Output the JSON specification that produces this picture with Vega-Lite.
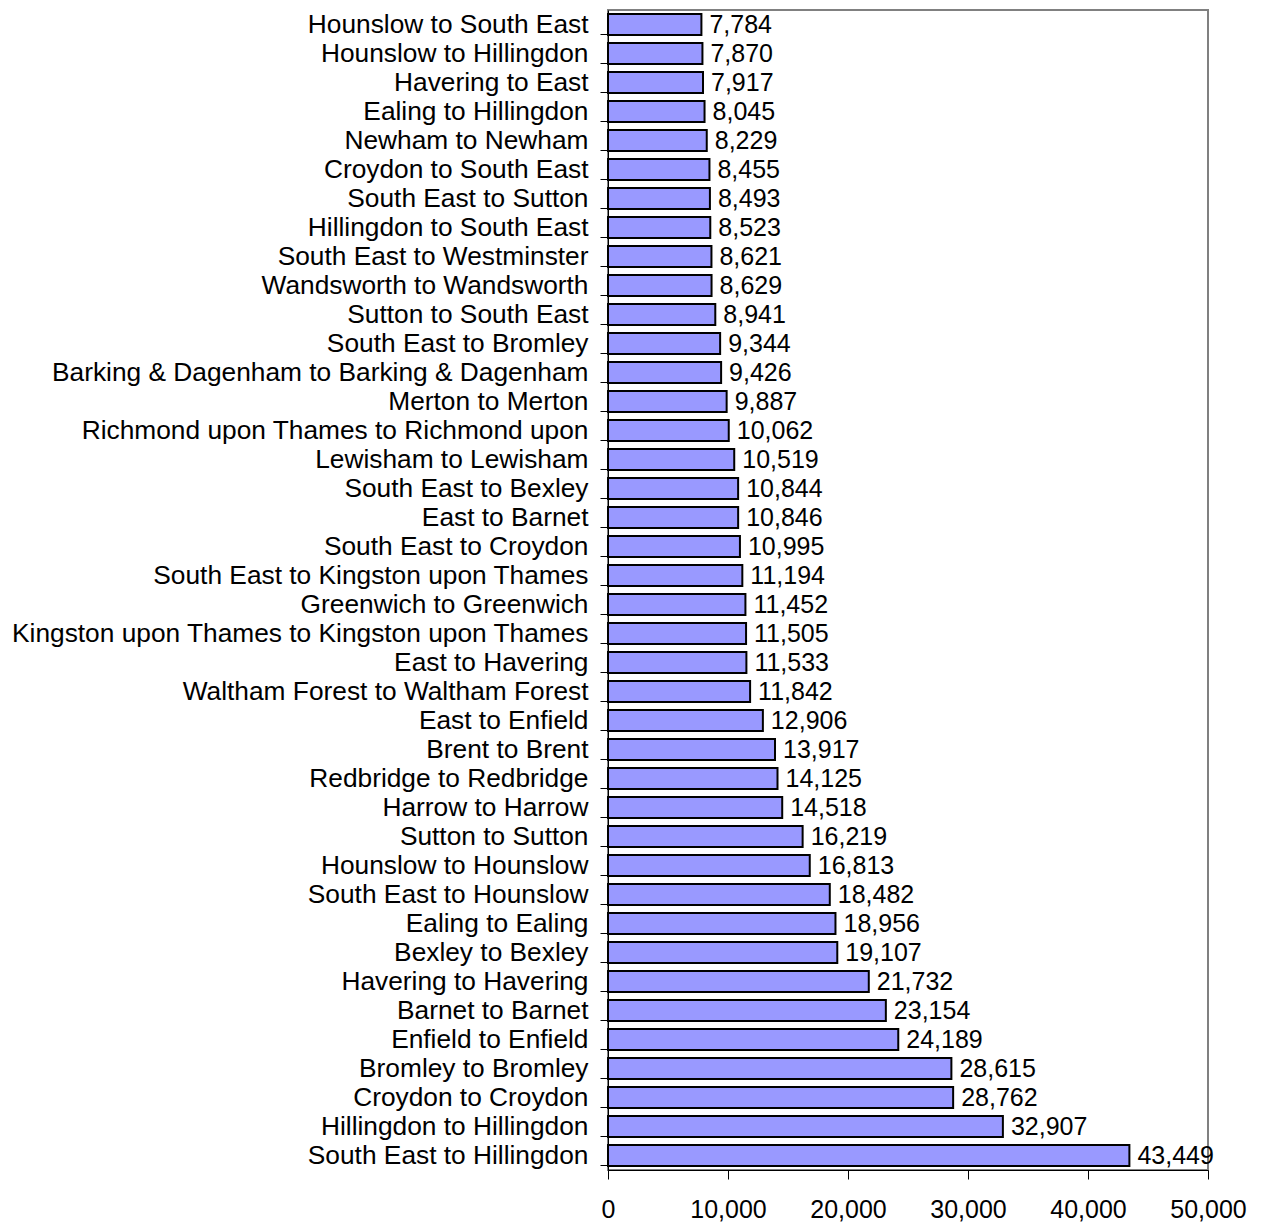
{
  "$schema": "https://vega.github.io/schema/vega-lite/v6.json",
  "autosize": "none",
  "width": 600,
  "height": 1160,
  "padding": {"left": 608, "top": 10, "right": 56, "bottom": 54},
  "background": "white",
  "config": {
    "view": {"stroke": "#808080", "strokeWidth": 2},
    "font": "Liberation Sans"
  },
  "data": {
    "values": [
      {"flow": "Hounslow to South East", "value": 7784},
      {"flow": "Hounslow to Hillingdon", "value": 7870},
      {"flow": "Havering to East", "value": 7917},
      {"flow": "Ealing to Hillingdon", "value": 8045},
      {"flow": "Newham to Newham", "value": 8229},
      {"flow": "Croydon to South East", "value": 8455},
      {"flow": "South East to Sutton", "value": 8493},
      {"flow": "Hillingdon to South East", "value": 8523},
      {"flow": "South East to Westminster", "value": 8621},
      {"flow": "Wandsworth to Wandsworth", "value": 8629},
      {"flow": "Sutton to South East", "value": 8941},
      {"flow": "South East to Bromley", "value": 9344},
      {"flow": "Barking & Dagenham to Barking & Dagenham", "value": 9426},
      {"flow": "Merton to Merton", "value": 9887},
      {"flow": "Richmond upon Thames to Richmond upon", "value": 10062},
      {"flow": "Lewisham to Lewisham", "value": 10519},
      {"flow": "South East to Bexley", "value": 10844},
      {"flow": "East to Barnet", "value": 10846},
      {"flow": "South East to Croydon", "value": 10995},
      {"flow": "South East to Kingston upon Thames", "value": 11194},
      {"flow": "Greenwich to Greenwich", "value": 11452},
      {"flow": "Kingston upon Thames to Kingston upon Thames", "value": 11505},
      {"flow": "East to Havering", "value": 11533},
      {"flow": "Waltham Forest to Waltham Forest", "value": 11842},
      {"flow": "East to Enfield", "value": 12906},
      {"flow": "Brent to Brent", "value": 13917},
      {"flow": "Redbridge to Redbridge", "value": 14125},
      {"flow": "Harrow to Harrow", "value": 14518},
      {"flow": "Sutton to Sutton", "value": 16219},
      {"flow": "Hounslow to Hounslow", "value": 16813},
      {"flow": "South East to Hounslow", "value": 18482},
      {"flow": "Ealing to Ealing", "value": 18956},
      {"flow": "Bexley to Bexley", "value": 19107},
      {"flow": "Havering to Havering", "value": 21732},
      {"flow": "Barnet to Barnet", "value": 23154},
      {"flow": "Enfield to Enfield", "value": 24189},
      {"flow": "Bromley to Bromley", "value": 28615},
      {"flow": "Croydon to Croydon", "value": 28762},
      {"flow": "Hillingdon to Hillingdon", "value": 32907},
      {"flow": "South East to Hillingdon", "value": 43449}
    ]
  },
  "encoding": {
    "y": {
      "field": "flow",
      "type": "nominal",
      "sort": null,
      "scale": {"paddingInner": 0.28, "paddingOuter": 0.14},
      "axis": {
        "title": null,
        "bandPosition": 1,
        "domainColor": "black",
        "domainWidth": 1,
        "tickColor": "black",
        "tickSize": 8,
        "labelPadding": 12,
        "labelFontSize": 26.3,
        "labelColor": "black",
        "labelLimit": 700,
        "grid": false
      }
    },
    "x": {
      "field": "value",
      "type": "quantitative",
      "scale": {"domain": [0, 50000], "nice": false},
      "axis": {
        "title": null,
        "values": [0, 10000, 20000, 30000, 40000, 50000],
        "format": ",.0f",
        "domainColor": "black",
        "domainWidth": 1,
        "tickColor": "black",
        "tickSize": 9,
        "labelPadding": 18,
        "labelFontSize": 25,
        "labelColor": "black",
        "labelFlush": false,
        "grid": false
      }
    }
  },
  "layer": [
    {
      "mark": {"type": "bar", "fill": "#9999FF", "stroke": "black", "strokeWidth": 2}
    },
    {
      "mark": {"type": "text", "align": "left", "baseline": "middle", "dx": 8, "fontSize": 25, "color": "black"},
      "encoding": {
        "text": {"field": "value", "type": "quantitative", "format": ",.0f"}
      }
    }
  ]
}
